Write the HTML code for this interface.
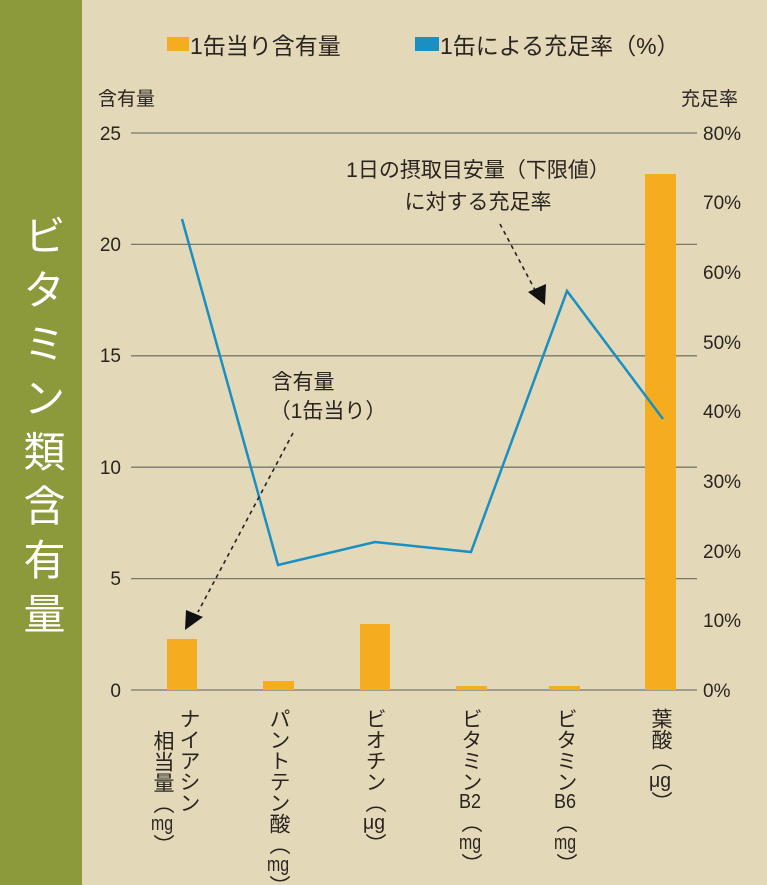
<!DOCTYPE html>
<html><head><meta charset="utf-8"><style>
html,body{margin:0;width:767px;height:885px;background:#e3d9b9;overflow:hidden;position:relative;font-family:"Liberation Sans","Noto Sans CJK JP",sans-serif;color:#2a2420}
.side{position:absolute;left:0;top:0;width:82px;height:885px;background:#8c9a3b}
.title{position:absolute;left:19px;top:214px;writing-mode:vertical-rl;color:#fff;font-size:42px;letter-spacing:12px;line-height:44px;white-space:nowrap}
.v{position:absolute;writing-mode:vertical-rl;text-orientation:upright;font-size:21px;line-height:24px;top:708px;white-space:nowrap}
.c{text-combine-upright:all;font-size:20px}
</style></head><body>
<div class="side"></div>
<div class="title">ビタミン類含有量</div>
<svg width="767" height="885" style="position:absolute;left:0;top:0" font-family="Liberation Sans, Noto Sans CJK JP, sans-serif" fill="#2a2420">
<rect x="167" y="37" width="22" height="14" fill="#f5ad1f"/>
<text x="190" y="54" font-size="23">1缶当り含有量</text>
<rect x="415" y="37" width="24" height="14" fill="#1a8fc2"/>
<text x="440" y="54" font-size="23">1缶による充足率（%）</text>
<text x="98" y="105" font-size="19">含有量</text>
<text x="681" y="105" font-size="19">充足率</text>
<g stroke="#77776e" stroke-width="1.3">
<line x1="131" y1="133" x2="697" y2="133"/><line x1="131" y1="244.4" x2="697" y2="244.4"/>
<line x1="131" y1="355.8" x2="697" y2="355.8"/><line x1="131" y1="467.2" x2="697" y2="467.2"/>
<line x1="131" y1="578.6" x2="697" y2="578.6"/><line x1="131" y1="690" x2="697" y2="690"/>
</g>
<g font-size="19" text-anchor="end">
<text x="121" y="140">25</text><text x="121" y="251">20</text><text x="121" y="362">15</text>
<text x="121" y="474">10</text><text x="121" y="585">5</text><text x="121" y="697">0</text>
</g>
<g font-size="19">
<text x="703" y="140">80%</text><text x="703" y="209">70%</text><text x="703" y="279">60%</text>
<text x="703" y="349">50%</text><text x="703" y="418">40%</text><text x="703" y="488">30%</text>
<text x="703" y="558">20%</text><text x="703" y="627">10%</text><text x="703" y="697">0%</text>
</g>
<g fill="#f5ad1f">
<rect x="167" y="639" width="30" height="51"/><rect x="263" y="681" width="31" height="9"/>
<rect x="360" y="624" width="30" height="66"/><rect x="456" y="686" width="31" height="4"/>
<rect x="549" y="686" width="31" height="4"/><rect x="645" y="174" width="31" height="516"/>
</g>
<polyline points="182,219 278,565 375,542 471,552 567,291 663,419" fill="none" stroke="#1a8fc2" stroke-width="2.5"/>
<text x="478" y="177" font-size="21" text-anchor="middle">1日の摂取目安量（下限値）</text>
<text x="478" y="209" font-size="21" text-anchor="middle">に対する充足率</text>
<line x1="500" y1="224" x2="535" y2="290" stroke="#222" stroke-width="1.6" stroke-dasharray="4,4"/>
<polygon points="545,305 528,292 546,284" fill="#111"/>
<text x="303" y="389" font-size="21" text-anchor="middle">含有量</text>
<text x="328" y="418" font-size="21" text-anchor="middle">（1缶当り）</text>
<line x1="293" y1="433" x2="198" y2="612" stroke="#222" stroke-width="1.6" stroke-dasharray="4,4"/>
<polygon points="185,630 186,610 203,617" fill="#111"/>
</svg>
<div class="v" style="left:176px">ナイアシン</div>
<div class="v" style="left:150px;top:730px">相当量（<span class="c">mg</span>）</div>
<div class="v" style="left:266px">パントテン酸（<span class="c">mg</span>）</div>
<div class="v" style="left:362px">ビオチン（<span class="c">μg</span>）</div>
<div class="v" style="left:458px">ビタミン<span class="c">B2</span>（<span class="c">mg</span>）</div>
<div class="v" style="left:553px">ビタミン<span class="c">B6</span>（<span class="c">mg</span>）</div>
<div class="v" style="left:648px">葉酸（<span class="c">μg</span>）</div>
</body></html>
